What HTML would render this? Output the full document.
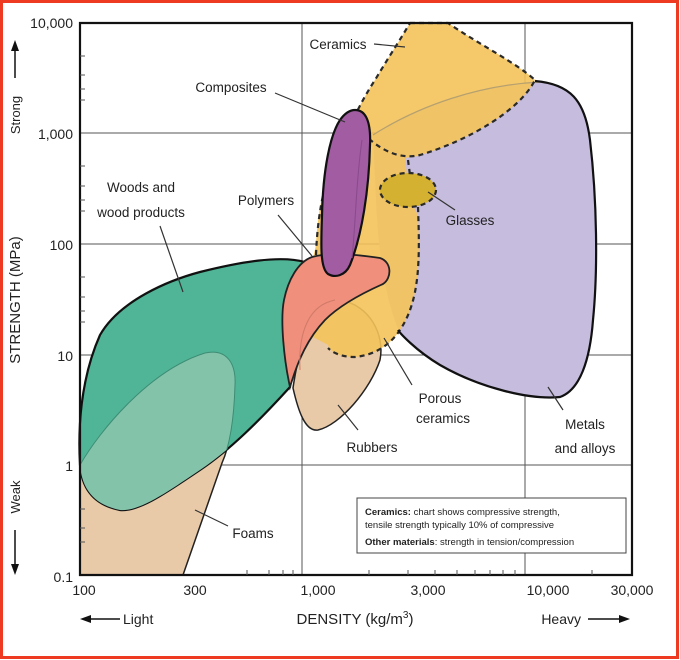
<!DOCTYPE html>
<html><head><meta charset="utf-8"><style>
html,body{margin:0;padding:0;background:#fff;}
svg{display:block;}
text{font-family:"Liberation Sans",sans-serif;fill:#222;}
</style></head><body>
<svg width="680" height="660" viewBox="0 0 680 660" xmlns="http://www.w3.org/2000/svg">
<rect x="1.5" y="1.5" width="676" height="656" fill="#fff" stroke="#ee3a20" stroke-width="3"/>
<defs>
<clipPath id="woodclip"><path d="M80,465 C78,430 80,380 100,335 C120,300 170,280 200,272 C240,262 280,255 305,262 C300,300 292,350 290,387 C260,420 230,450 200,470 C170,490 140,512 120,510 C95,505 82,490 80,465Z"/></clipPath>
</defs>
<!-- grid -->
<g stroke="#555" stroke-width="1" fill="none">
<line x1="80" y1="133" x2="632" y2="133"/>
<line x1="80" y1="244" x2="632" y2="244"/>
<line x1="80" y1="355" x2="632" y2="355"/>
<line x1="80" y1="465" x2="632" y2="465"/>
<line x1="302" y1="23" x2="302" y2="575"/>
<line x1="525" y1="23" x2="525" y2="575"/>
</g>
<!-- foams -->
<path d="M80,465 C100,430 150,370 205,353 C228,348 236,365 235,385 C234,420 230,445 222,463 L183,575 L80,575Z" fill="#e8c9a8" stroke="#222" stroke-width="1.5"/>
<!-- woods -->
<path d="M80,465 C78,430 80,380 100,335 C120,300 170,280 200,272 C240,262 280,255 305,262 C300,300 292,350 290,387 C260,420 230,450 200,470 C170,490 140,512 120,510 C95,505 82,490 80,465Z" fill="#4fb596" stroke="#111" stroke-width="2.2"/>
<path d="M80,465 C100,430 150,370 205,353 C228,348 236,365 235,385 C234,420 230,445 222,463 L183,575 L80,575Z" fill="#82c3aa" stroke="#3d8c74" stroke-width="1" clip-path="url(#woodclip)"/>
<!-- rubbers -->
<path d="M293,388 C298,410 305,432 318,430 C340,425 370,390 380,360 C385,335 370,305 340,300 C315,300 300,340 293,388Z" fill="#e8c9a8" stroke="#222" stroke-width="1.5"/>
<!-- metals fill -->
<path d="M373,135 C420,105 480,85 540,82 C570,84 585,100 590,140 C597,200 598,270 593,320 C590,360 580,390 560,397 C530,400 480,388 440,365 C415,350 400,333 400,333 C385,300 378,250 376,200 Z" fill="#c6bcdd"/>
<!-- ceramics -->
<path d="M410,23 L448,23 C480,45 515,62 535,80 C520,110 470,140 420,155 C405,158 395,158 405,160 L408,175 M0,0" fill="none"/>
<path d="M410,23 L448,23 C480,45 515,62 535,80 C520,110 470,140 418,156 L405,158 L410,200 L418,215 C420,260 420,300 400,330 C390,345 375,355 355,357 C340,357 330,352 328,345 L300,330 C305,300 310,270 316,245 C318,200 330,160 345,140 C352,120 362,100 375,80 C390,55 400,40 410,23Z" fill="#f4c35a" fill-opacity="0.9"/>
<path d="M373,135 C420,105 480,85 540,82" fill="none" stroke="#b5a070" stroke-width="1.2"/>
<g fill="none" stroke="#2a2a2a" stroke-width="2.2" stroke-dasharray="5,4">
<path d="M410,23 L448,23 C480,45 515,62 535,80 C520,110 470,140 420,155 C400,160 380,150 365,135"/>
<path d="M408,160 L410,175"/>
<path d="M418,207 C420,260 420,300 400,330 C390,345 375,355 355,357 C340,357 332,352 328,348"/>
<path d="M316,255 C318,200 330,160 345,140 C352,120 362,100 375,80 C390,55 400,40 410,23"/>
</g>
<ellipse cx="408" cy="190" rx="28" ry="17" fill="#d4b131" stroke="#2a2a2a" stroke-width="2.2" stroke-dasharray="5,4"/>
<!-- metals visible outline -->
<path d="M535,81 C570,84 585,100 590,140 C597,200 598,270 593,320 C590,360 580,390 560,397 C530,400 480,388 440,365 C415,350 400,333 398,330" fill="none" stroke="#111" stroke-width="2.2"/>
<!-- polymers -->
<path d="M290,387 C284,360 280,320 284,300 C288,280 298,262 312,257 C330,252 360,255 380,258 C392,262 392,278 383,284 C365,292 340,305 325,320 C308,338 298,360 290,387Z" fill="#ef8f7c" stroke="#222" stroke-width="1.8"/>
<path d="M300,370 C298,330 310,305 335,300" fill="none" stroke="#d07a68" stroke-width="1"/>
<!-- composites -->
<path d="M355,110 C366,110 371,122 370,145 C369,190 362,235 350,265 C345,276 335,278 328,274 C320,268 321,245 322,215 C323,170 330,135 340,120 C345,113 350,110 355,110Z" fill="#a15ca2" stroke="#111" stroke-width="2.2"/>
<path d="M362,140 C356,180 356,220 352,258" fill="none" stroke="#8a4a8c" stroke-width="1"/>
<!-- axes frame -->
<path d="M80,23 L632,23 L632,575 L80,575 Z" fill="none" stroke="#111" stroke-width="2.2"/>
<g stroke="#555" stroke-width="1">
<line x1="80" y1="56" x2="85" y2="56"/><line x1="80" y1="75" x2="85" y2="75"/><line x1="80" y1="89" x2="85" y2="89"/><line x1="80" y1="100" x2="85" y2="100"/>
<line x1="80" y1="166" x2="85" y2="166"/><line x1="80" y1="186" x2="85" y2="186"/><line x1="80" y1="200" x2="85" y2="200"/><line x1="80" y1="211" x2="85" y2="211"/>
<line x1="80" y1="277" x2="85" y2="277"/><line x1="80" y1="297" x2="85" y2="297"/><line x1="80" y1="311" x2="85" y2="311"/><line x1="80" y1="322" x2="85" y2="322"/>
<line x1="80" y1="509" x2="85" y2="509"/><line x1="80" y1="528" x2="85" y2="528"/><line x1="80" y1="542" x2="85" y2="542"/>
<line x1="247" y1="575" x2="247" y2="570"/><line x1="269" y1="575" x2="269" y2="570"/><line x1="283" y1="575" x2="283" y2="570"/><line x1="293" y1="575" x2="293" y2="570"/>
<line x1="369" y1="575" x2="369" y2="570"/><line x1="408" y1="575" x2="408" y2="570"/><line x1="435" y1="575" x2="435" y2="570"/><line x1="457" y1="575" x2="457" y2="570"/><line x1="475" y1="575" x2="475" y2="570"/><line x1="490" y1="575" x2="490" y2="570"/><line x1="503" y1="575" x2="503" y2="570"/><line x1="515" y1="575" x2="515" y2="570"/>
<line x1="592" y1="575" x2="592" y2="570"/>
</g>
<!-- leader lines -->
<g stroke="#333" stroke-width="1.2" fill="none">
<line x1="374" y1="44" x2="405" y2="47"/>
<line x1="275" y1="93" x2="345" y2="122"/>
<line x1="160" y1="226" x2="183" y2="292"/>
<line x1="278" y1="215" x2="312" y2="256"/>
<line x1="428" y1="192" x2="455" y2="210"/>
<line x1="412" y1="385" x2="384" y2="338"/>
<line x1="358" y1="430" x2="338" y2="405"/>
<line x1="548" y1="387" x2="563" y2="410"/>
<line x1="195" y1="510" x2="228" y2="526"/>
</g>
<!-- labels -->
<g font-size="13.5" text-anchor="middle">
<text x="338" y="49">Ceramics</text>
<text x="231" y="92">Composites</text>
<text x="141" y="192">Woods and</text>
<text x="141" y="217">wood products</text>
<text x="266" y="205">Polymers</text>
<text x="470" y="225">Glasses</text>
<text x="440" y="403">Porous</text>
<text x="443" y="423">ceramics</text>
<text x="372" y="452">Rubbers</text>
<text x="585" y="429">Metals</text>
<text x="585" y="453">and alloys</text>
<text x="253" y="538">Foams</text>
</g>
<!-- legend -->
<rect x="357" y="498" width="269" height="55" fill="#fff" stroke="#444" stroke-width="1"/>
<g font-size="9.5">
<text x="365" y="515"><tspan font-weight="bold">Ceramics:</tspan> chart shows compressive strength,</text>
<text x="365" y="528">tensile strength typically 10% of compressive</text>
<text x="365" y="545"><tspan font-weight="bold">Other materials</tspan>: strength in tension/compression</text>
</g>
<!-- axis tick labels -->
<g font-size="14" text-anchor="end">
<text x="73" y="28">10,000</text>
<text x="73" y="139">1,000</text>
<text x="73" y="250">100</text>
<text x="73" y="361">10</text>
<text x="73" y="471">1</text>
<text x="73" y="582">0.1</text>
</g>
<g font-size="14" text-anchor="middle">
<text x="84" y="595">100</text>
<text x="195" y="595">300</text>
<text x="318" y="595">1,000</text>
<text x="428" y="595">3,000</text>
<text x="548" y="595">10,000</text>
<text x="632" y="595">30,000</text>
</g>
<text x="355" y="624" font-size="15" text-anchor="middle">DENSITY (kg/m<tspan font-size="10" dy="-6">3</tspan><tspan dy="6">)</tspan></text>
<text x="123" y="624" font-size="14">Light</text>
<text x="581" y="624" font-size="14" text-anchor="end">Heavy</text>
<g stroke="#111" stroke-width="1.5" fill="#111">
<line x1="88" y1="619" x2="120" y2="619"/><path d="M80,619 L91,615 L91,623Z" stroke="none"/>
<line x1="588" y1="619" x2="622" y2="619"/><path d="M630,619 L619,615 L619,623Z" stroke="none"/>
<line x1="15" y1="48" x2="15" y2="78"/><path d="M15,40 L11,51 L19,51Z" stroke="none"/>
<line x1="15" y1="530" x2="15" y2="565"/><path d="M15,575 L11,564 L19,564Z" stroke="none"/>
</g>
<text transform="translate(20,300) rotate(-90)" font-size="15" text-anchor="middle">STRENGTH (MPa)</text>
<text transform="translate(20,115) rotate(-90)" font-size="13" text-anchor="middle">Strong</text>
<text transform="translate(20,497) rotate(-90)" font-size="13" text-anchor="middle">Weak</text>
</svg>
</body></html>
